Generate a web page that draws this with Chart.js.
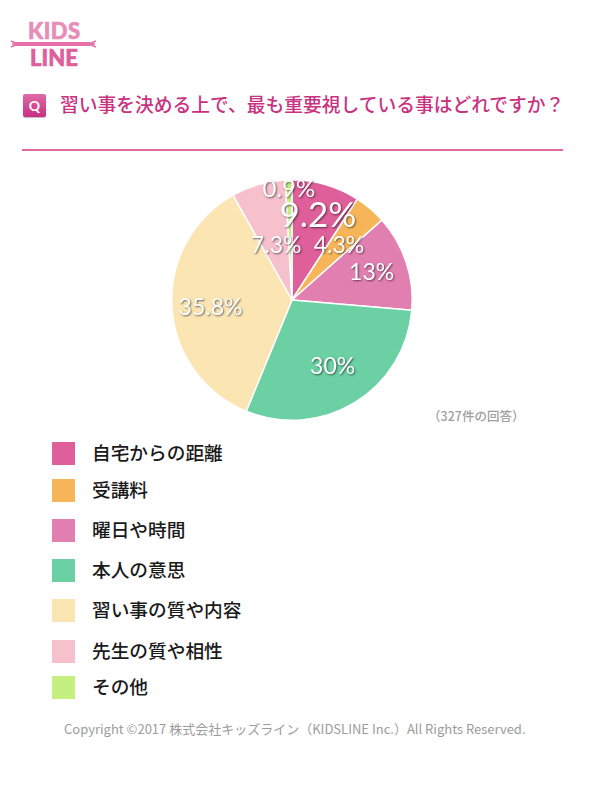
<!DOCTYPE html>
<html lang="ja">
<head>
<meta charset="utf-8">
<script src="https://cdn.jsdelivr.net/npm/chart.js@4"></script>
<style>
    html, body { margin: 0; background: #fff; }
    body { position: relative; width: 600px; height: 800px; overflow: hidden; font-family: "Noto Sans CJK JP", sans-serif; }
    .abs { position: absolute; white-space: nowrap; }
    #logo { left: 0; top: 10px; }
    #badge { left: 23px; top: 94px; width: 23px; height: 23px; border-radius: 2px; background: linear-gradient(#E06AA5, #C62F82); color: #fff; font: bold 14px/23px "Lato", sans-serif; text-align: center; box-shadow: 0 1px 1px #bbb; }
    #title { left: 60px; top: 90px; font-size: 18.75px; line-height: 28px; font-weight: 500; color: #C8337F; }
    #rule { left: 22px; top: 149px; width: 541px; height: 2px; background: #E0689F; }
    #pie { left: 162px; top: 170px; }
    #count { left: 428px; top: 406px; font-size: 12.5px; line-height: 20px; font-weight: 500; color: #A0A0A0; }
    .swatch { left: 52px; width: 23px; height: 23px; }
    .legend-text { left: 92px; font-size: 18.7px; line-height: 26px; font-weight: 500; color: #1a1a1a; }
    #copyright { left: 64px; top: 719px; font-size: 13px; line-height: 20px; color: #9C9C9C; }
</style>
</head>
<body>
<svg id="logo" class="abs" width="110" height="60" viewBox="0 10 110 60">
    <path d="M16 44 L90 44" stroke="#E56FA6" stroke-width="4" fill="none"/>
    <path d="M11 41 L18 44 L11 47 M12 44 L18 44 M96 41 L89 44 L96 47 M95 44 L89 44" stroke="#E56FA6" stroke-width="1.6" fill="none"/>
    <text x="28" y="39" font-family="Lato" font-weight="900" font-size="22" fill="#E88DB8" stroke="#E88DB8" stroke-width="0.6" textLength="52">KIDS</text>
    <text x="30" y="66" font-family="Lato" font-weight="900" font-size="22" fill="#DD5F9B" stroke="#DD5F9B" stroke-width="0.6" textLength="48">LINE</text>
</svg>
<div id="badge" class="abs">Q</div>
<div id="title" class="abs">習い事を決める上で、最も重要視している事はどれですか？</div>
<div id="rule" class="abs"></div>
<canvas id="pie" class="abs" width="260" height="260" style="width:260px;height:260px"></canvas>
<div id="count" class="abs">（327件の回答）</div>
<div id="copyright" class="abs">Copyright ©2017 株式会社キッズライン（KIDSLINE Inc.）All Rights Reserved.</div>
<script>
const categories = ['自宅からの距離', '受講料', '曜日や時間', '本人の意思', '習い事の質や内容', '先生の質や相性', 'その他'];
const shares = [9.2, 4.3, 13, 30, 35.8, 7.3, 0.9];
const shareLabels = ['9.2%', '4.3%', '13%', '30%', '35.8%', '7.3%', '0.9%'];
const sliceColors = ['#DE5F9A', '#F6B558', '#E07FB0', '#6BD0A4', '#FAE5B3', '#F6C0CC', '#C5F07F'];

// label placement per slice: distance from centre as share of radius, angle nudge, font size
const labelRadius = [0.73, 0.60, 0.70, 0.65, 0.68, 0.47, 0.92];
const labelNudge = [0.012, 0, -0.01, 0, -0.026, 0, 0];
const labelSize = [35, 23, 23, 23, 23, 23, 24];
const legendTops = [442, 479, 519, 559, 599, 640, 676];

categories.forEach((name, i) => {
    const swatch = document.createElement('div');
    swatch.className = 'abs swatch';
    swatch.style.top = legendTops[i] + 'px';
    swatch.style.background = sliceColors[i];
    document.body.appendChild(swatch);

    const text = document.createElement('div');
    text.className = 'abs legend-text';
    text.style.top = (legendTops[i] - 3) + 'px';
    text.textContent = name;
    document.body.appendChild(text);
});

// white percentage text with soft shadow, drawn on the slices
const sliceLabels = {
    id: 'sliceLabels',
    afterDatasetsDraw(chart) {
        const ctx = chart.ctx;
        chart.getDatasetMeta(0).data.forEach((arc, i) => {
            const mid = (arc.startAngle + arc.endAngle) / 2 + labelNudge[i];
            const r = arc.outerRadius * labelRadius[i];
            ctx.save();
            ctx.font = labelSize[i] + 'px Lato, sans-serif';
            ctx.textAlign = 'center';
            ctx.textBaseline = 'middle';
            ctx.fillStyle = '#fff';
            ctx.shadowColor = 'rgba(0,0,0,0.55)';
            ctx.shadowBlur = 2;
            ctx.shadowOffsetX = 1;
            ctx.shadowOffsetY = 1;
            ctx.fillText(shareLabels[i], arc.x + Math.cos(mid) * r, arc.y + Math.sin(mid) * r);
            ctx.restore();
        });
    }
};

new Chart(document.getElementById('pie').getContext('2d'), {
    type: 'pie',
    data: {
        labels: categories,
        datasets: [{
            data: shares,
            backgroundColor: sliceColors,
            borderColor: '#fff',
            borderWidth: 1.5
        }]
    },
    options: {
        responsive: false,
        animation: false,
        layout: { padding: 9 },
        plugins: {
            legend: { display: false },
            tooltip: { enabled: false }
        }
    },
    plugins: [sliceLabels]
});
</script>
</body>
</html>
